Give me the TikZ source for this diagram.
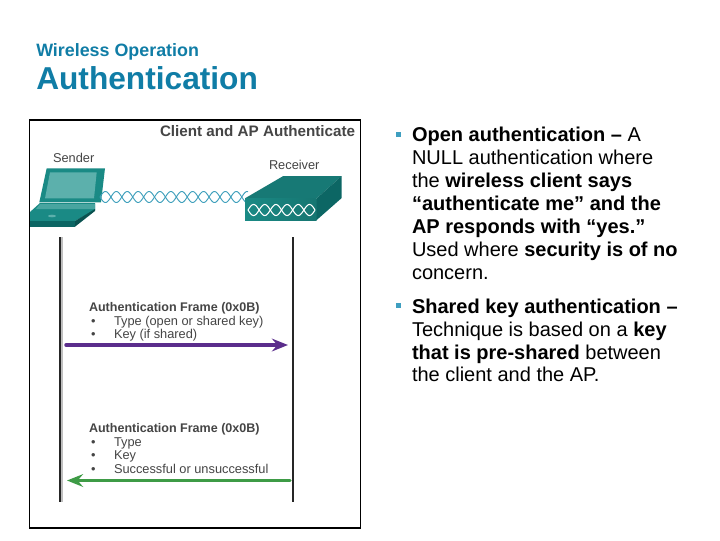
\documentclass[tikz,border=0pt]{standalone}
\usepackage{fontspec}
\setmainfont{Liberation Sans}
\usetikzlibrary{arrows.meta}
\definecolor{titleblue}{HTML}{107DA6}
\definecolor{labelgray}{HTML}{454545}
\definecolor{tealdark}{HTML}{0C6664}
\definecolor{tealmid}{HTML}{1A8A85}
\definecolor{teallight}{HTML}{5CB0AC}
\definecolor{wave}{HTML}{3FA0BC}
\definecolor{bulletblue}{HTML}{3F9FC0}
\definecolor{purplearrow}{HTML}{5B2D8C}
\definecolor{greenarrow}{HTML}{3E9B46}
\tikzset{
  x=0.75pt,y=-0.75pt,
  txt/.style={anchor=base west,inner sep=0pt,outer sep=0pt,text=black,font=\fontsize{15}{17}\selectfont},
  lab/.style={anchor=base west,inner sep=0pt,outer sep=0pt,text=labelgray,font=\fontsize{9.6}{11}\selectfont},
  labb/.style={lab,font=\fontsize{9.4}{11}\selectfont\bfseries},
  lifeline/.style={line width=1.5pt,black!85},
  msg/.style={line width=2.6pt,line cap=round,-{Stealth[length=12pt,width=9.5pt,inset=4pt]}},
  sq/.style={fill=bulletblue},
}
\begin{document}
\begin{tikzpicture}
\useasboundingbox (0,0) rectangle (720,540);
\fill[white] (0,0) rectangle (720,540);
\node[anchor=base west,inner sep=0pt,text=titleblue,font=\fontsize{13.4}{15}\selectfont\bfseries] (sub) at (36,56.5) {Wireless Operation};
\node[anchor=base west,inner sep=0pt,text=titleblue,font=\fontsize{23.75}{28}\selectfont\bfseries] (ttl) at (36,89) {Authentication};
\draw[black,line width=0.8pt] (29.5,120) rectangle (360.5,528);
\node[labb,text=labelgray,font=\fontsize{11.4}{13}\selectfont\bfseries] (head) at (160,136.5) {Client and AP Authenticate};
\node[lab] (snd) at (53,162.5) {Sender};
\node[lab] (rcv) at (269,169) {Receiver};
% laptop
\fill[tealmid] (46.7,168.3) -- (105,168.3) -- (101,202.3) -- (39.3,202.3) -- cycle;
\fill[teallight] (50,172.3) -- (96.7,172.3) -- (94,198.3) -- (45,198.3) -- cycle;
\fill[tealmid] (40,203) -- (95,203) -- (95,210) -- (75,221) -- (30,221) -- (30,212) -- cycle;
\fill[teallight!70!tealmid] (40,204) -- (95,204) -- (95,209) -- (36,209) -- cycle;
\fill[tealdark] (30,221) -- (75,221) -- (75,226.7) -- (30,226.7) -- cycle;
\fill[tealdark!80!black] (75,221) -- (95,209) -- (95,211) -- (75,226.7) -- cycle;
\fill[teallight] (52,216) ellipse (4 and 1.3);
% waves
\draw[wave,line width=0.7pt] plot[domain=100:248,samples=240,smooth] (\x,{197+5.5*sin((\x-100)*16.51)});
\draw[wave,line width=0.7pt] plot[domain=100:248,samples=240,smooth] (\x,{197-5.5*sin((\x-100)*16.51)});
% access point
\fill[tealmid!88!black] (245,198.3) -- (283.3,176) -- (341.7,176) -- (316.7,198.3) -- cycle;
\shade[left color=tealmid,right color=tealmid!85!black] (245,198.3) rectangle (316.7,220);
\fill[tealdark] (316.7,198.3) -- (341.7,176) -- (341.7,198) -- (316.7,220) -- cycle;
\draw[white,line width=0.8pt] plot[domain=248:315,samples=160,smooth] (\x,{210+5.5*sin((\x-248)*16.11)});
\draw[white,line width=0.8pt] plot[domain=248:315,samples=160,smooth] (\x,{210-5.5*sin((\x-248)*16.11)});
% lifelines
\coordinate (la) at (60,237); \coordinate (lb) at (60,502);
\coordinate (ra) at (293,237); \coordinate (rb) at (293,502);
\draw[gray!50,line width=1.2pt] ([xshift=1.4pt]la) -- ([xshift=1.4pt]lb);
\draw[lifeline] (la) -- (lb);
\draw[lifeline] (ra) -- (rb);
% frames
\node[labb] (f1) at (89,311) {Authentication Frame (0x0B)};
\node[lab] (b1) at (91,325) {•}; \node[lab] (t1) at (114,325) {Type (open or shared key)};
\node[lab] (b2) at (91,338) {•}; \node[lab] (t2) at (114,338) {Key (if shared)};
\coordinate (p1) at (66,345); \coordinate (p2) at (288,345);
\draw[msg,purplearrow] (p1) -- (p2);
\node[labb] (f2) at (89,432) {Authentication Frame (0x0B)};
\node[lab] (b3) at (91,446) {•}; \node[lab] (t3) at (114,446) {Type};
\node[lab] (b4) at (91,459.5) {•}; \node[lab] (t4) at (114,459.5) {Key};
\node[lab] (b5) at (91,473) {•}; \node[lab] (t5) at (114,473) {Successful or unsuccessful};
\coordinate (g1) at (290,480.5); \coordinate (g2) at (67,480.5);
\draw[msg,greenarrow] (g1) -- (g2);
% right text
\fill[sq] (395.7,131.7) rectangle (401,136.7);
\node[txt] at (412,141) {\textbf{Open authentication –} A};
\node[txt] at (412,164) {NULL authentication where};
\node[txt] at (412,187) {the \textbf{wireless client says}};
\node[txt] at (412,210) {\textbf{“authenticate me” and the}};
\node[txt] at (412,233) {\textbf{AP responds with “yes.”}};
\node[txt] at (412,256) {Used where \textbf{security is of no}};
\node[txt] at (412,279) {concern.};
\fill[sq] (395.7,303) rectangle (401,308);
\node[txt] at (412,313) {\textbf{Shared key authentication –}};
\node[txt] at (412,336) {Technique is based on a \textbf{key}};
\node[txt] at (412,359) {\textbf{that is pre-shared} between};
\node[txt] at (412,381.5) {the client and the AP.};
\end{tikzpicture}
\end{document}
